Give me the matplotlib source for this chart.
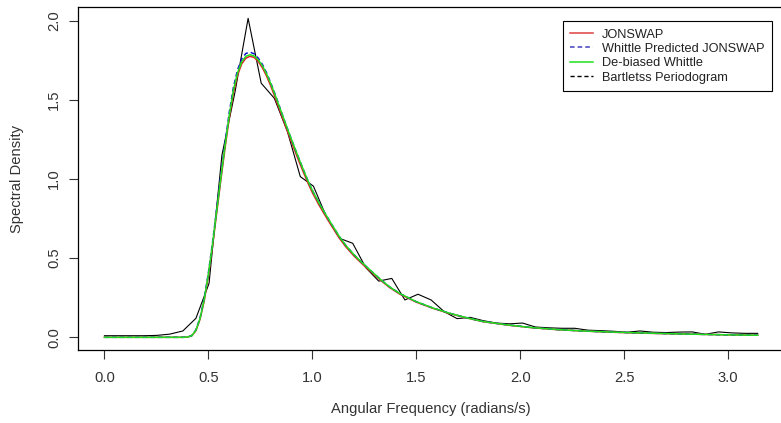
import numpy as np
import matplotlib
matplotlib.use("Agg")
import matplotlib.pyplot as plt

plt.rcParams['font.family'] = ['Liberation Sans', 'DejaVu Sans']

# Bartlett periodogram (frequency grid and values)
x_bart = [0.000, 0.063, 0.126, 0.188, 0.251, 0.314, 0.377, 0.440, 0.503, 0.565,
          0.628, 0.691, 0.754, 0.817, 0.880, 0.942, 1.005, 1.068, 1.131, 1.194,
          1.257, 1.319, 1.382, 1.445, 1.508, 1.571, 1.634, 1.696, 1.759, 1.822,
          1.885, 1.948, 2.011, 2.073, 2.136, 2.199, 2.262, 2.325, 2.388, 2.450,
          2.513, 2.576, 2.639, 2.702, 2.765, 2.827, 2.890, 2.953, 3.016, 3.079,
          3.142]
y_bart = [0.010, 0.010, 0.010, 0.010, 0.012, 0.020, 0.040, 0.120, 0.340, 1.150,
          1.550, 2.015, 1.605, 1.510, 1.300, 1.015, 0.955, 0.760, 0.625, 0.594,
          0.440, 0.355, 0.372, 0.236, 0.272, 0.236, 0.162, 0.118, 0.126, 0.105,
          0.090, 0.085, 0.090, 0.065, 0.060, 0.057, 0.057, 0.045, 0.042, 0.038,
          0.032, 0.040, 0.032, 0.030, 0.033, 0.034, 0.019, 0.034, 0.028, 0.025,
          0.025]

# smooth spectra
x_fit = [0.000, 0.200, 0.380, 0.400, 0.420, 0.440, 0.460, 0.480, 0.500, 0.520,
         0.540, 0.560, 0.580, 0.600, 0.620, 0.640, 0.660, 0.680, 0.700, 0.720,
         0.740, 0.760, 0.780, 0.800, 0.820, 0.840, 0.860, 0.880, 0.900, 0.920,
         0.940, 0.960, 0.980, 1.000, 1.030, 1.060, 1.090, 1.130, 1.160, 1.200,
         1.230, 1.260, 1.300, 1.330, 1.370, 1.420, 1.500, 1.580, 1.660, 1.740,
         1.820, 1.940, 2.060, 2.180, 2.300, 2.420, 2.540, 2.660, 2.780, 2.900,
         3.020, 3.142]
y_jonswap = [0.000, 0.000, 0.000, 0.002, 0.009, 0.042, 0.115, 0.232, 0.390, 0.578,
             0.787, 0.995, 1.195, 1.385, 1.543, 1.655, 1.727, 1.763, 1.775, 1.768,
             1.742, 1.702, 1.650, 1.587, 1.518, 1.446, 1.374, 1.302, 1.232, 1.164,
             1.097, 1.033, 0.971, 0.914, 0.840, 0.773, 0.709, 0.626, 0.573, 0.514,
             0.476, 0.439, 0.392, 0.358, 0.316, 0.273, 0.222, 0.183, 0.150, 0.123,
             0.099, 0.077, 0.060, 0.048, 0.040, 0.033, 0.028, 0.024, 0.021, 0.018,
             0.015, 0.013]
y_whittle = [0.000, 0.000, 0.000, 0.002, 0.011, 0.047, 0.124, 0.246, 0.408, 0.600,
             0.812, 1.024, 1.226, 1.418, 1.578, 1.688, 1.758, 1.793, 1.801, 1.791,
             1.763, 1.723, 1.670, 1.607, 1.538, 1.465, 1.390, 1.318, 1.248, 1.180,
             1.113, 1.048, 0.985, 0.928, 0.853, 0.785, 0.720, 0.636, 0.582, 0.522,
             0.483, 0.446, 0.398, 0.363, 0.320, 0.277, 0.225, 0.185, 0.152, 0.124,
             0.100, 0.078, 0.061, 0.049, 0.040, 0.034, 0.029, 0.025, 0.021, 0.018,
             0.015, 0.013]
y_debiased = [0.000, 0.000, 0.000, 0.002, 0.010, 0.045, 0.120, 0.240, 0.400, 0.590,
              0.800, 1.010, 1.210, 1.400, 1.560, 1.670, 1.740, 1.775, 1.785, 1.777,
              1.752, 1.715, 1.664, 1.602, 1.534, 1.462, 1.390, 1.318, 1.248, 1.180,
              1.113, 1.048, 0.985, 0.928, 0.853, 0.785, 0.720, 0.636, 0.582, 0.522,
              0.483, 0.446, 0.398, 0.363, 0.320, 0.277, 0.225, 0.185, 0.152, 0.124,
              0.100, 0.078, 0.061, 0.049, 0.040, 0.034, 0.029, 0.025, 0.021, 0.018,
              0.015, 0.013]

W, H = 781, 423
fig = plt.figure(figsize=(W / 100, H / 100), dpi=100)
# plot box: left 78, right runs off the image edge, top 7, bottom 350 (pixels)
ax = fig.add_axes([78.3 / W, 1 - 350 / H, 705.5 / W, (350 - 7.3) / H])

ax.plot(x_bart, y_bart, color='black', lw=0.8)
ax.plot(x_fit, y_jonswap, color='#e02020', lw=1.1)
ax.plot(x_fit, y_whittle, color='#1010d0', lw=1.1, ls=(0, (3, 2)))
ax.plot(x_fit, y_debiased, color='#1fe01f', lw=1.1)

ax.set_xlim(-0.1257, 3.2673)
ax.set_ylim(-0.0802, 2.0846)
ax.set_xticks([0.0, 0.5, 1.0, 1.5, 2.0, 2.5, 3.0])
ax.set_xticklabels(['0.0', '0.5', '1.0', '1.5', '2.0', '2.5', '3.0'])
ax.set_yticks([0.0, 0.5, 1.0, 1.5, 2.0])
ax.set_yticklabels(['0.0', '0.5', '1.0', '1.5', '2.0'], rotation=90, va='center')
ax.tick_params(direction='out', length=6.5, width=0.8, labelsize=10.6,
               colors='#333333')
ax.tick_params(axis='x', pad=8.8)
ax.tick_params(axis='y', pad=6)
for s in ax.spines.values():
    s.set_linewidth(0.9)
    s.set_color('black')

fig.text(431 / W, 1 - 409 / H, 'Angular Frequency (radians/s)', ha='center',
         va='center', fontsize=10.6, color='#333333')
fig.text(17.5 / W, 1 - 178.7 / H, 'Spectral Density', ha='center', va='center',
         rotation=90, fontsize=10.6, color='#333333')

handles = [
    plt.Line2D([], [], color='#e04040', lw=1.1),
    plt.Line2D([], [], color='#4040c0', lw=1.1, ls=(0, (3, 2))),
    plt.Line2D([], [], color='#1fe01f', lw=1.1),
    plt.Line2D([], [], color='black', lw=1.0, ls=(0, (3, 2))),
]
labels = ['JONSWAP', 'Whittle Predicted JONSWAP', 'De-biased Whittle',
          'Bartletss Periodogram']
leg = fig.legend(handles, labels, loc='upper right',
                 bbox_to_anchor=(771.7 / W, 1 - 21 / H), fontsize=9.2,
                 frameon=True, fancybox=False, shadow=False, borderaxespad=0,
                 handlelength=1.82, handletextpad=0.63, borderpad=0.6,
                 labelspacing=0.18, framealpha=1)
leg.get_frame().set_edgecolor('black')
leg.get_frame().set_linewidth(0.8)
for t in leg.get_texts():
    t.set_color('#222222')

fig.savefig('out.png', dpi=100)
